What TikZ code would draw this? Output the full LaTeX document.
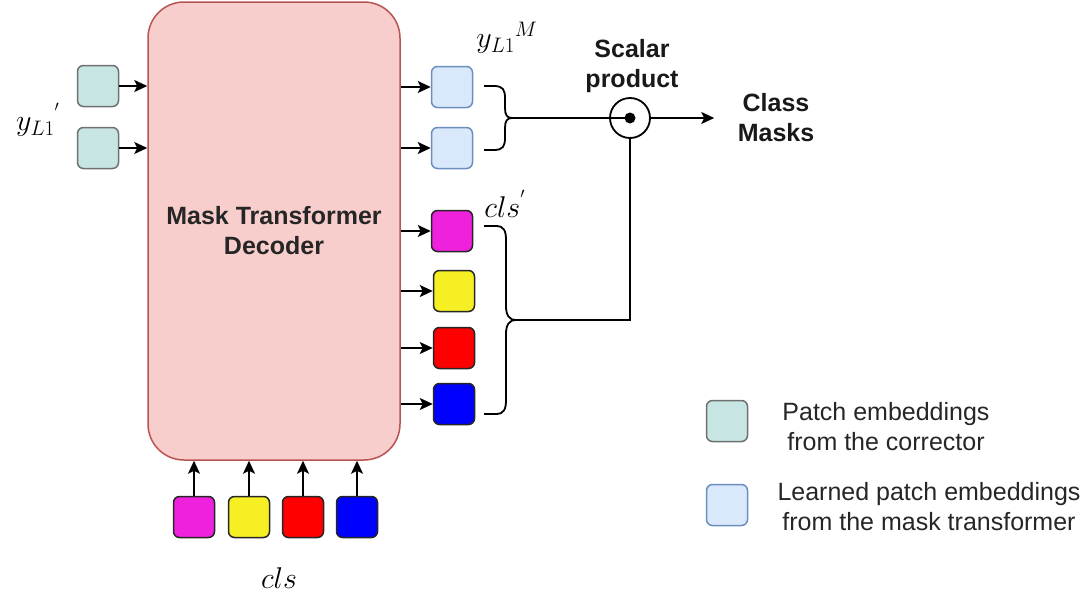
\RequirePackage{fix-cm}
\documentclass[tikz,border=0pt]{standalone}
\usepackage{fontspec}
\newfontfamily\arialfont{Liberation Sans}
\usetikzlibrary{arrows.meta}
\definecolor{tealf}{HTML}{C6E5E3}
\definecolor{tealb}{HTML}{707070}
\definecolor{bluef}{HTML}{DAE8FC}
\definecolor{blueb}{HTML}{6C8EBF}
\definecolor{decf}{HTML}{F8CECC}
\definecolor{decb}{HTML}{B85450}
\definecolor{magf}{HTML}{F021DC}
\definecolor{yelf}{HTML}{F6EF23}
\definecolor{redf}{HTML}{FF0000}
\definecolor{bluf}{HTML}{0000FF}
\begin{document}
\begin{tikzpicture}[x=1pt,y=-1pt,
  box/.style={rectangle, rounded corners=6pt, minimum width=41pt, minimum height=41pt, line width=1.5pt, inner sep=0pt},
  tealbox/.style={box, fill=tealf, draw=tealb},
  lbluebox/.style={box, fill=bluef, draw=blueb},
  colbox/.style={box, draw=black!85},
  arr/.style={line width=1.8pt, -{Stealth[length=13pt,width=12pt,inset=3pt]}},
  ln/.style={line width=1.8pt},
  lbl/.style={font=\arialfont\bfseries\fontsize{25}{30}\selectfont, align=center, text=black!90},
  leg/.style={font=\arialfont\fontsize{25}{30}\selectfont, align=center, text=black!85},
  mth/.style={font=\fontsize{30}{36}\selectfont, inner sep=0pt}
]
\useasboundingbox (0,0) rectangle (1088,597);

% main decoder
\node[rectangle, rounded corners=36pt, fill=decf, draw=decb, line width=1.5pt,
      minimum width=252pt, minimum height=458pt, lbl, text=black!85]
      (dec) at (274,231) {Mask Transformer\\Decoder};

% left inputs
\node[tealbox] (t1) at (98,86) {};
\node[tealbox] (t2) at (98,148) {};
\draw[arr] (t1.east) -- (t1.east -| dec.west);
\draw[arr] (t2.east) -- (t2.east -| dec.west);
\node[mth] (ylab) at (38,120) {${y_{L1}}^{'}$};

% right outputs
\node[lbluebox] (b1) at (452,87) {};
\node[lbluebox] (b2) at (452,148) {};
\draw[arr] (b1.west -| dec.east) -- (b1.west);
\draw[arr] (b2.west -| dec.east) -- (b2.west);
\node[mth] (ymlab) at (507,38) {${y_{L1}}^{M}$};

\node[colbox, fill=magf] (c1) at (452,231) {};
\node[colbox, fill=yelf] (c2) at (454,291) {};
\node[colbox, fill=redf] (c3) at (454,348) {};
\node[colbox, fill=bluf] (c4) at (454,404) {};
\foreach \c in {c1,c2,c3,c4}{\draw[arr] (\c.west -| dec.east) -- (\c.west);}
\node[mth] (clslab) at (505,204) {$cls^{'}$};

% bottom inputs
\node[colbox, fill=magf] (d1) at (194,517) {};
\node[colbox, fill=yelf] (d2) at (249,517) {};
\node[colbox, fill=redf] (d3) at (303,517) {};
\node[colbox, fill=bluf] (d4) at (357,517) {};
\foreach \d in {d1,d2,d3,d4}{\draw[arr] (\d.north) -- (\d.north |- dec.south);}
\node[mth] (clsb) at (279,578) {$cls$};

% scalar product
\node[circle, draw, line width=1.8pt, minimum size=40pt, inner sep=0pt] (sp) at (630,118) {};
\fill (sp.center) circle (5.5pt);
\node[lbl] (splab) at (632,66) {Scalar\\product};
\node[lbl] (cm) at (776,118) {Class\\Masks};
\draw[arr] (sp.east) -- (cm.west) [shorten >=20pt];

% upper brace
\coordinate (tipU) at (512,118);
\draw[ln] (484,86) -- (494,86) .. controls (503,86) and (505,90) .. (505,98) -- (505,108)
  .. controls (505,115) and (507,118) .. (tipU)
  .. controls (507,118) and (505,121) .. (505,128) -- (505,138)
  .. controls (505,146) and (503,150) .. (494,150) -- (484,150);
\draw[ln] (tipU) -- (sp.center);

% lower brace
\coordinate (tipL) at (516,320);
\draw[ln] (484,226) -- (496,226) .. controls (504,226) and (506,231) .. (506,240) -- (506,306)
  .. controls (506,315) and (509,320) .. (tipL)
  .. controls (509,320) and (506,325) .. (506,334) -- (506,400)
  .. controls (506,409) and (504,414) .. (496,414) -- (484,414);
\draw[ln] (tipL) -| (sp.south);

% legend
\node[tealbox] (l1) at (727,421) {};
\node[lbluebox] (l2) at (727,505) {};
\node[leg] (l1t) at (886,427) {Patch embeddings\\from the corrector};
\node[leg] (l2t) at (929,507) {Learned patch embeddings\\from the mask transformer};
\end{tikzpicture}
\end{document}
